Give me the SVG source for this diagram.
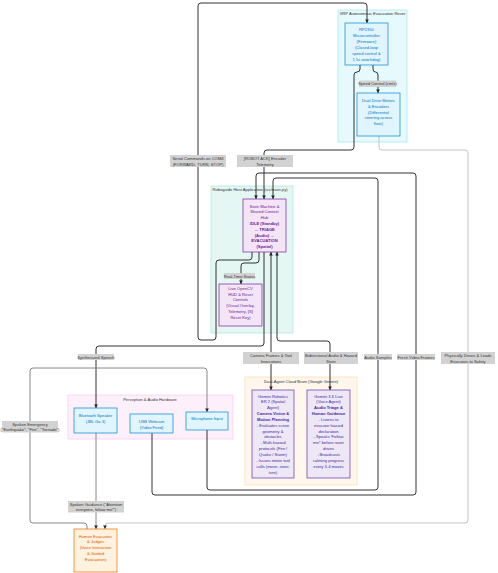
<svg xmlns="http://www.w3.org/2000/svg" width="498" height="573" viewBox="0 0 498 573">
<style>
text{font-family:"Liberation Sans",Arial,sans-serif;font-size:4.1px;text-anchor:middle;dominant-baseline:central}
.cl{stroke-width:0.7}
.blue rect{fill:#e1f5fe;stroke:#0288d1;stroke-width:0.7}
.blue text{fill:#0277bd}
.pur rect{fill:#f3e5f5;stroke:#7b1fa2;stroke-width:0.7}
.pur text{fill:#6a1b9a}
.dp rect{fill:#ede7f6;stroke:#5e35b1;stroke-width:0.7}
.dp text{fill:#4527a0}
.org rect{fill:#fff3e0;stroke:#ef6c00;stroke-width:0.7}
.org text{fill:#e65100}
.b{font-weight:bold}
.e{fill:none;stroke:#333;stroke-width:1}
.g{stroke:#888}
.lg{stroke:#c4c4c4}
.lb rect{fill:#d2d2d2}
.lb text{fill:#333}
.ct{fill:#333}
</style>
<defs>
<marker id="ah" viewBox="0 0 10 10" refX="10" refY="5" markerWidth="3.6" markerHeight="3.6" markerUnits="userSpaceOnUse" orient="auto-start-reverse"><path d="M0,0L10,5L0,10z" fill="#222"/></marker>
</defs>
<rect width="498" height="573" fill="#fff"/>

<!-- clusters -->
<g id="cluster-xrp"><rect class="cl" x="338" y="10" width="69" height="132" fill="#e6f9fc" stroke="#9ee6f0"/><text class="ct" x="372.5" y="13.5">XRP Autonomous Evacuation Rover</text></g>
<g id="cluster-host"><rect class="cl" x="211" y="186" width="82" height="147" fill="#e4f7f3" stroke="#a8e6dc"/><text class="ct" x="250" y="189.5">Roboguide Host Application (src/main.py)</text></g>
<g id="cluster-perception"><rect class="cl" x="68" y="395" width="165" height="44" fill="#fdf0fb" stroke="#f6c8ee"/><text class="ct" x="150" y="399">Perception &amp; Audio Hardware</text></g>
<g id="cluster-cloud"><rect class="cl" x="245" y="377" width="112" height="108" fill="#fff7ec" stroke="#ffd9a8"/><text class="ct" x="301" y="381">Dual-Agent Cloud Brain (Google Gemini)</text></g>

<!-- connectors -->
<g id="connectors">
<path class="e" d="M252,252L252,257Q252,260 249,260L219,260Q216,260 216,263L216,337Q216,340 213,340L201,340Q198,340 198,337L198,6Q198,3 201,3L364,3Q367,3 367,6L367,23" marker-end="url(#ah)"/>
<path class="e" d="M360,65L360,69Q360,72 357,72Q354,72 354,75L354,147Q354,150 351,150L267,150Q264,150 264,153L264,199" marker-end="url(#ah)"/>
<path class="e" d="M373,65L373,69Q373,72 375.5,72Q378,72 378,75L378,93" marker-end="url(#ah)"/>
<path class="e lg" d="M379,136L379,147Q379,150 382,150L465,150Q468,150 468,153L468,520Q468,523 465,523L108,523Q105,523 105,526L105,529" marker-end="url(#ah)"/>
<path class="e" d="M152,433L152,492Q152,495 155,495L413,495Q416,495 416,492L416,176Q416,173 413,173L259,173Q256,173 256,176L256,199" marker-end="url(#ah)"/>
<path class="e" d="M207,430L207,487Q207,490 210,490L375,490Q378,490 378,487L378,181Q378,178 375,178L276,178Q273,178 273,181L273,199" marker-end="url(#ah)"/>
<path class="e" d="M259,252L259,260Q259,263 256,263L244,263Q241,263 241,266L241,284" marker-end="url(#ah)"/>
<path class="e" d="M264,252L264,343Q264,346 261,346L99,346Q96,346 96,349L96,408" marker-end="url(#ah)"/>
<path class="e" d="M271,252L271,390" marker-start="url(#ah)" marker-end="url(#ah)"/>
<path class="e" d="M277,252L277,338Q277,341 280,341L327,341Q330,341 330,344L330,390" marker-start="url(#ah)" marker-end="url(#ah)"/>
<path class="e g" d="M87,529L87,526Q87,523 84,523L33,523Q30,523 30,520L30,371Q30,368 33,368L204,368Q207,368 207,371L207,412" marker-end="url(#ah)"/>
<path class="e g" d="M96,433L96,529" marker-end="url(#ah)"/>
</g>

<!-- edge labels -->
<g id="edge-labels" class="lb">
<rect x="359" y="80.5" width="37" height="6.5"/><text x="377.5" y="83.8">Speed Control (cm/s)</text>
<rect x="170" y="155" width="56" height="12"/><text x="198" y="158.2">Serial Commands on COM4</text><text x="198" y="164">(FORWARD, TURN, STOP)</text>
<rect x="237" y="155" width="56" height="12"/><text x="265" y="158.2">[ROBOT ACK] Encoder</text><text x="265" y="164">Telemetry</text>
<rect x="224" y="273" width="31" height="6"/><text x="239.5" y="276">Real-Time Status</text>
<rect x="78" y="354" width="36" height="6"/><text x="96" y="357">Synthesized Speech</text>
<rect x="243" y="352" width="56" height="12"/><text x="271" y="355.2">Camera Frames &amp; Tool</text><text x="271" y="361">Invocations</text>
<rect x="304" y="352" width="54" height="12"/><text x="331" y="355.2">Bidirectional Audio &amp; Hazard</text><text x="331" y="361">State</text>
<rect x="364" y="354" width="28" height="6"/><text x="378" y="357">Audio Samples</text>
<rect x="397" y="354" width="38" height="6"/><text x="416" y="357">Fresh Video Frames</text>
<rect x="441" y="352" width="54" height="12"/><text x="468" y="355.2">Physically Drives &amp; Leads</text><text x="468" y="361">Evacuees to Safety</text>
<rect x="2" y="421" width="56" height="11.5"/><text x="30" y="424">Spoken Emergency</text><text x="30" y="429.5">("Earthquake", "Fire", "Tornado")</text>
<rect x="68" y="501" width="56" height="11.5"/><text x="96" y="504">Spoken Guidance ("Attention</text><text x="96" y="509.5">everyone, follow me!")</text>
</g>

<!-- nodes -->
<g id="rp2350" class="blue"><rect x="345" y="23" width="43" height="42"/>
<text x="366.5" y="29">RP2350</text><text x="366.5" y="35">Microcontroller</text><text x="366.5" y="41">(Firmware)</text><text x="366.5" y="47">(Closed-loop</text><text x="366.5" y="53">speed control &amp;</text><text x="366.5" y="59">1.5s watchdog)</text></g>
<g id="motors" class="blue"><rect x="357" y="93" width="43" height="43"/>
<text x="378.5" y="100">Dual Drive Motors</text><text x="378.5" y="106">&amp; Encoders</text><text x="378.5" y="112">(Differential</text><text x="378.5" y="117.7">steering across</text><text x="378.5" y="123.4">floor)</text></g>
<g id="state-machine" class="pur"><rect x="243" y="199" width="43" height="53"/>
<text x="264.5" y="206">State Machine &amp;</text><text x="264.5" y="211.8">Shared Context</text><text x="264.5" y="217.6">Hub</text><text class="b" x="264.5" y="223.4">IDLE (Standby)</text><text class="b" x="264.5" y="229.2">→ TRIAGE</text><text class="b" x="264.5" y="235">(Audio) →</text><text class="b" x="264.5" y="240.8">EVACUATION</text><text class="b" x="264.5" y="246.6">(Spatial)</text></g>
<g id="hud" class="pur"><rect x="219" y="284" width="43" height="42"/>
<text x="240.5" y="288.5">Live OpenCV</text><text x="240.5" y="294.2">HUD &amp; Reset</text><text x="240.5" y="299.9">Controls</text><text x="240.5" y="305.6">(Visual Overlay,</text><text x="240.5" y="311.3">Telemetry, [S]</text><text x="240.5" y="317">Reset Key)</text></g>
<g id="speaker" class="blue"><rect x="74" y="408" width="43" height="25"/>
<text x="95.5" y="415">Bluetooth Speaker</text><text x="95.5" y="421">(JBL Go 3)</text></g>
<g id="webcam" class="blue"><rect x="130" y="414" width="43" height="19"/>
<text x="151.5" y="421">USB Webcam</text><text x="151.5" y="427">(Video Feed)</text></g>
<g id="mic" class="blue"><rect x="186" y="412" width="42" height="18"/>
<text x="207" y="418.5">Microphone Input</text></g>
<g id="gemini-er" class="dp"><rect x="252" y="390" width="42" height="88"/>
<text x="273" y="396">Gemini Robotics</text><text x="273" y="401.85">ER 2 (Spatial</text><text x="273" y="407.7">Agent)</text><text class="b" x="273" y="413.55">Camera Vision &amp;</text><text class="b" x="273" y="419.4">Motion Planning</text><text x="273" y="425.25">- Evaluates scene</text><text x="273" y="431.1">geometry &amp;</text><text x="273" y="436.95">obstacles</text><text x="273" y="442.8">- Multi-hazard</text><text x="273" y="448.65">protocols (Fire /</text><text x="273" y="454.5">Quake / Storm)</text><text x="273" y="460.35">- Issues motor tool</text><text x="273" y="466.2">calls (move, steer,</text><text x="273" y="472.05">turn)</text></g>
<g id="gemini-live" class="dp"><rect x="307" y="390" width="43" height="88"/>
<text x="328.5" y="396">Gemini 3.6 Live</text><text x="328.5" y="401.85">(Voice Agent)</text><text class="b" x="328.5" y="407.7">Audio Triage &amp;</text><text class="b" x="328.5" y="413.55">Human Guidance</text><text x="328.5" y="419.4">- Listens to</text><text x="328.5" y="425.25">evacuee hazard</text><text x="328.5" y="431.1">declaration</text><text x="328.5" y="436.95">- Speaks 'Follow</text><text x="328.5" y="442.8">me!' before rover</text><text x="328.5" y="448.65">drives</text><text x="328.5" y="454.5">- Broadcasts</text><text x="328.5" y="460.35">calming progress</text><text x="328.5" y="466.2">every 3-4 moves</text></g>
<g id="human" class="org"><rect x="74" y="529" width="43" height="43"/>
<text x="95.5" y="536">Human Evacuates</text><text x="95.5" y="541.8">&amp; Judges</text><text x="95.5" y="547.6">(Voice Interaction</text><text x="95.5" y="553.4">&amp; Guided</text><text x="95.5" y="559.2">Evacuation)</text></g>
</svg>
